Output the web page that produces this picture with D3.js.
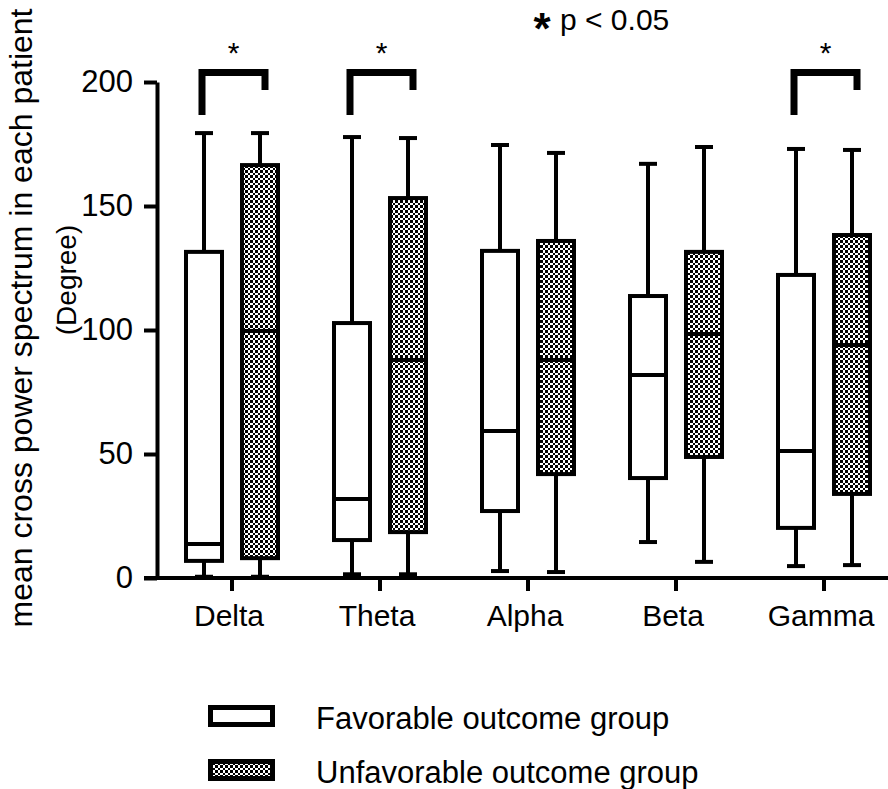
<!DOCTYPE html>
<html><head><meta charset="utf-8">
<script src="https://cdn.jsdelivr.net/npm/d3@7"></script>
<style>body{margin:0;background:#fff}svg{display:block}text{font-family:"Liberation Sans",Arial,sans-serif;fill:#000}</style>
</head><body><svg id="c" width="888" height="789"></svg>
<script>
const categories = ["Delta","Theta","Alpha","Beta","Gamma"];
const groups = ["Favorable outcome group","Unfavorable outcome group"];
// [min, q1, median, q3, max]
const favorable = [
  [0.5, 6.9, 13.7, 131.5, 179.4],
  [1.5, 15.3, 31.9, 102.8, 177.8],
  [2.8, 27.0, 59.3, 131.9, 174.6],
  [14.5, 40.3, 81.9, 113.7, 167.0],
  [4.8, 20.2, 51.2, 122.2, 173.0]
];
const unfavorable = [
  [0.5, 8.0, 99.6, 166.5, 179.4],
  [1.5, 18.5, 87.9, 153.2, 177.4],
  [2.4, 41.9, 87.9, 135.9, 171.4],
  [6.5, 48.8, 98.4, 131.5, 173.8],
  [5.2, 33.9, 94.0, 138.3, 172.6]
];
const yTicks = [0, 50, 100, 150, 200];
const significant = ["Delta","Theta","Gamma"];
const sigLabel = "p < 0.05";
const yTitle = "mean cross power spectrum in each patient";
const yUnit = "(Degree)";

const svg = d3.select("#c");
const x = d3.scaleBand().domain(categories).range([158, 898]).padding(0);
const y = d3.scaleLinear().domain([0, 200]).range([578, 82]);
const off = 28, boxW = 36, capW = 18;

// checker pattern (average cell 2.5px, integer edges)
const defs = svg.append("defs");
const pat = defs.append("pattern").attr("id","chk").attr("patternUnits","userSpaceOnUse")
  .attr("width",10).attr("height",10);
pat.append("rect").attr("width",10).attr("height",10).attr("fill","#fff");
const edges = [0,3,5,8,10];
for (let i = 0; i < 4; i++) for (let j = 0; j < 4; j++) {
  if ((i + j) % 2 === 0) {
    pat.append("rect").attr("x",edges[i]).attr("y",edges[j])
      .attr("width",edges[i+1]-edges[i]).attr("height",edges[j+1]-edges[j])
      .attr("fill","#000").attr("shape-rendering","crispEdges");
  }
}

const series = [
  {name: groups[0], data: favorable, dx: -off, fill: "#fff"},
  {name: groups[1], data: unfavorable, dx: off, fill: "url(#chk)"}
];

const cx = c => x(c) + x.bandwidth()/2;

series.forEach(s => {
  const g = svg.append("g");
  s.data.forEach((d, i) => {
    const xc = cx(categories[i]) + s.dx;
    const [mn, q1, md, q3, mx] = d;
    g.append("line").attr("x1",xc).attr("x2",xc).attr("y1",y(mx)).attr("y2",y(q3)).attr("stroke","#000").attr("stroke-width",4);
    g.append("line").attr("x1",xc).attr("x2",xc).attr("y1",y(q1)).attr("y2",y(mn)).attr("stroke","#000").attr("stroke-width",4);
    g.append("line").attr("x1",xc-capW/2).attr("x2",xc+capW/2).attr("y1",y(mx)).attr("y2",y(mx)).attr("stroke","#000").attr("stroke-width",4);
    g.append("line").attr("x1",xc-capW/2).attr("x2",xc+capW/2).attr("y1",y(mn)).attr("y2",y(mn)).attr("stroke","#000").attr("stroke-width",4);
    g.append("rect").attr("x",xc-boxW/2).attr("y",y(q3)).attr("width",boxW).attr("height",y(q1)-y(q3))
      .attr("fill",s.fill).attr("stroke","#000").attr("stroke-width",4);
    g.append("line").attr("x1",xc-boxW/2).attr("x2",xc+boxW/2).attr("y1",y(md)).attr("y2",y(md)).attr("stroke","#000").attr("stroke-width",4);
  });
});

// axes
const yAxis = svg.append("g").attr("transform","translate(157,0)")
  .call(d3.axisLeft(y).tickValues(yTicks).tickSize(13).tickSizeOuter(0).tickPadding(11));
yAxis.selectAll("path,line").attr("stroke","#000").attr("stroke-width",4);
yAxis.selectAll("text").attr("font-size",31).attr("font-family",'"Liberation Sans",Arial,sans-serif').attr("fill","#000");

const xAxis = svg.append("g").attr("transform",`translate(0,${y(0)})`)
  .call(d3.axisBottom(x).tickSize(13).tickSizeOuter(0).tickPadding(14));
xAxis.select(".domain").remove();
xAxis.selectAll("line").attr("stroke","#000").attr("stroke-width",4);
xAxis.selectAll("text").attr("font-size",30).attr("dx",-3).attr("font-family",'"Liberation Sans",Arial,sans-serif').attr("fill","#000");
svg.append("line").attr("x1",144).attr("x2",900).attr("y1",y(0)).attr("y2",y(0)).attr("stroke","#000").attr("stroke-width",4);

// significance brackets
significant.forEach(c => {
  const xl = cx(c) - off - 2, xr = cx(c) + off + 5;
  svg.append("path").attr("d",`M${xl},${y(186.7)}V${y(203.8)}H${xr}V${y(196.8)}`)
    .attr("fill","none").attr("stroke","#000").attr("stroke-width",7).attr("stroke-linejoin","miter");
  svg.append("text").attr("x",(xl+xr)/2).attr("y",63).attr("text-anchor","middle").attr("font-size",30).text("*");
});

// p label
svg.append("text").attr("x",542).attr("y",44).attr("text-anchor","middle").attr("font-size",44).attr("font-weight","bold").text("*");
svg.append("text").attr("x",560).attr("y",30).attr("font-size",30).text(sigLabel);

// y title
svg.append("text").attr("transform","translate(32,318) rotate(-90)").attr("text-anchor","middle").attr("font-size",32).text(yTitle);
svg.append("text").attr("transform","translate(76,280) rotate(-90)").attr("text-anchor","middle").attr("font-size",28).text(yUnit);

// legend
series.forEach((s, i) => {
  const ly = 716 + i*54;
  svg.append("rect").attr("x",210.5).attr("y",ly-8.5).attr("width",62).attr("height",17)
    .attr("fill",s.fill).attr("stroke","#000").attr("stroke-width",5);
  svg.append("text").attr("x",316).attr("y",ly+13).attr("font-size",31).text(s.name);
});
</script></body></html>
